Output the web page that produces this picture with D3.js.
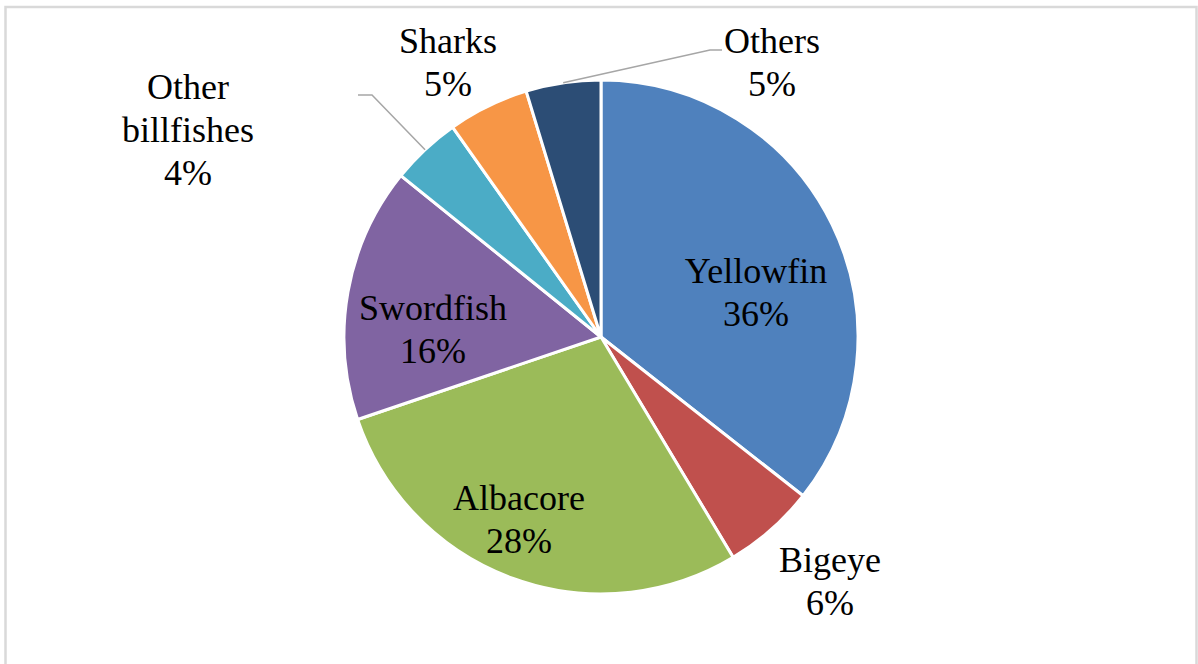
<!DOCTYPE html>
<html>
<head>
<meta charset="utf-8">
<script src="https://cdn.jsdelivr.net/npm/d3@7"></script>
<style>
  body { margin: 0; background: #fff; }
  #chart text { font-family: "Liberation Serif", "Times New Roman", serif; }
</style>
</head>
<body>
<div id="chart"></div>
<script>
// data (share of catch, %)
const species = ["Yellowfin", "Bigeye", "Albacore", "Swordfish", "Other billfishes", "Sharks", "Others"]
const shares = [35.6, 5.8, 28.4, 16.0, 4.4, 5.1, 4.7]
const shareLabels = ["36%", "6%", "28%", "16%", "4%", "5%", "5%"]
const colors = ["#4F81BD", "#C0504D", "#9BBB59", "#8064A2", "#4BACC6", "#F79646", "#2C4D75"]

const width = 1198
const height = 664
const cx = 601, cy = 337
const radius = 257

// label placement, relative to the pie centre (visual centre of each text block)
const labelLayout = {
  "Yellowfin":        { at: [155, -45], lines: ["Yellowfin"] },
  "Bigeye":           { at: [229, 244], lines: ["Bigeye"] },
  "Albacore":         { at: [-82, 182], lines: ["Albacore"] },
  "Swordfish":        { at: [-168, -8], lines: ["Swordfish"] },
  "Other billfishes": { at: [-413, -207], lines: ["Other", "billfishes"], leader: [[-229, -242], [-243, -242]] },
  "Sharks":           { at: [-153, -275], lines: ["Sharks"] },
  "Others":           { at: [171, -275], lines: ["Others"], leader: [[109, -287], [121, -287]] }
}

const data = species.map((s, i) => ({ name: s, value: shares[i], label: shareLabels[i], color: colors[i] }))

const svg = d3.select("#chart").append("svg")
    .attr("width", width)
    .attr("height", height)

// chart frame
svg.append("rect")
    .attr("x", 5.5)
    .attr("y", 7)
    .attr("width", 1191)
    .attr("height", 700)
    .style("fill", "none")
    .style("stroke", "#d9d9d9")
    .style("stroke-width", 2.5)

const g = svg.append("g")
    .attr("transform", "translate(" + cx + "," + cy + ")")

const pie = d3.pie()
    .value(d => d.value)
    .sort(null)

const arc = d3.arc()
    .innerRadius(0)
    .outerRadius(radius)

const arcs = pie(data)

g.selectAll(".slice")
  .data(arcs)
  .enter()
  .append("path")
  .attr("class", "slice")
  .attr("d", arc)
  .style("fill", d => d.data.color)
  .style("stroke", "#fff")
  .style("stroke-width", 3)

// leader lines for the small outside labels
const edge = d3.arc().innerRadius(radius).outerRadius(radius)
g.selectAll(".leader")
  .data(arcs.filter(d => labelLayout[d.data.name].leader))
  .enter()
  .append("polyline")
  .attr("class", "leader")
  .attr("points", d => [edge.centroid(d)].concat(labelLayout[d.data.name].leader).map(p => p.join(",")).join(" "))
  .style("fill", "none")
  .style("stroke", "#a6a6a6")
  .style("stroke-width", 1.5)

// data labels: category name + percentage
const lineH = 43
const labels = g.selectAll(".label")
  .data(arcs)
  .enter()
  .append("text")
  .attr("class", "label")
  .attr("text-anchor", "middle")
  .style("font-size", "36px")
  .style("fill", "#000")

labels.each(function(d) {
  const lay = labelLayout[d.data.name]
  const lines = lay.lines.concat([d.data.label])
  const top = lay.at[1] + 12 - (lines.length - 1) * lineH / 2
  d3.select(this).selectAll("tspan")
    .data(lines)
    .enter()
    .append("tspan")
    .attr("x", lay.at[0])
    .attr("y", (t, i) => top + i * lineH)
    .text(t => t)
})
</script>
</body>
</html>
